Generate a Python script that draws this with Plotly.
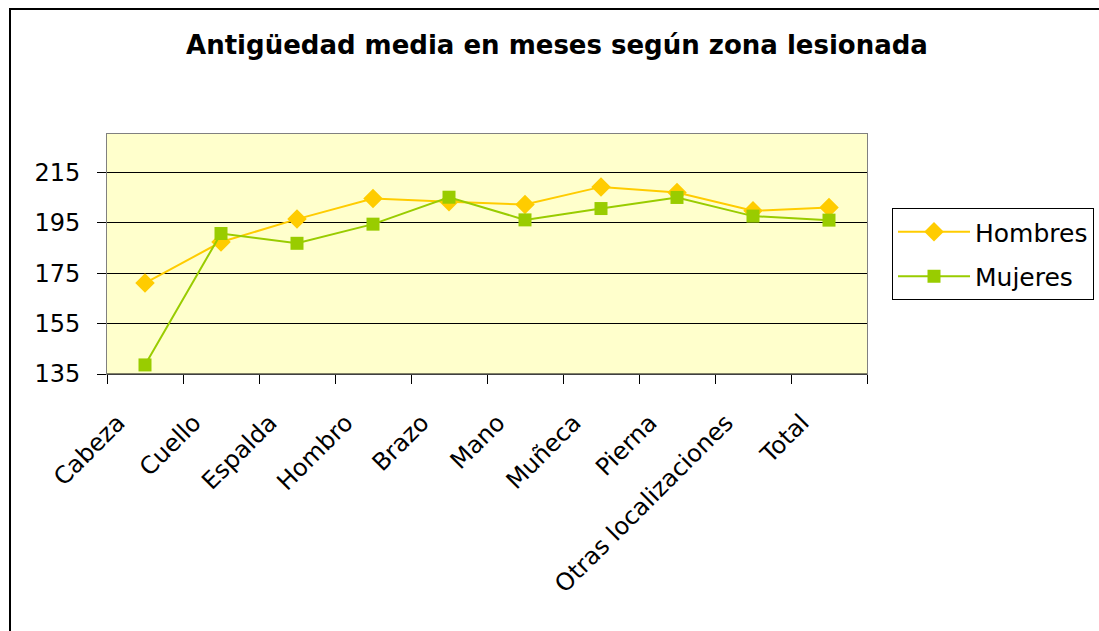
import plotly.graph_objects as go

# Zona lesionada
categorias = ["Cabeza", "Cuello", "Espalda", "Hombro", "Brazo", "Mano",
              "Muñeca", "Pierna", "Otras localizaciones", "Total"]

# Antigüedad media (meses)
hombres = [171.1, 187.4, 196.5, 204.7, 203.4, 202.3, 209.3, 207.1, 199.8, 201.1]
mujeres = [138.6, 190.8, 186.9, 194.5, 205.2, 196.2, 200.7, 205.1, 197.7, 196.1]

y_ticks = [135, 155, 175, 195, 215]

W, H = 1099, 631
L, R, T, B = 107, 867, 134, 374
pw, ph = R - L, B - T

FONT = "DejaVu Sans, Arial, sans-serif"

fig = go.Figure()
fig.add_trace(go.Scatter(
    x=categorias, y=hombres, name="Hombres", mode="lines+markers",
    line=dict(color="#FFCC00", width=2),
    marker=dict(symbol="diamond", size=15, color="#FFCC00"),
    legendgroup="h",
))
fig.add_trace(go.Scatter(
    x=categorias, y=mujeres, name="Mujeres", mode="lines+markers",
    line=dict(color="#99CC00", width=2),
    marker=dict(symbol="square", size=13, color="#99CC00"),
    legendgroup="m",
))

def px_x(x):
    return (x - L) / pw

def px_y(y):
    return (B - y) / ph

fig.update_layout(
    width=W, height=H,
    margin=dict(l=L, r=W - R, t=T, b=H - B, autoexpand=False),
    paper_bgcolor="white",
    plot_bgcolor="#FFFFCC",
    font=dict(family=FONT, size=24, color="black"),
    title=dict(
        text="<b>Antigüedad media en meses según zona lesionada</b>",
        xref="container", yref="container",
        x=557 / W, y=1 - 45 / H, xanchor="center", yanchor="middle",
        font=dict(size=26, color="black"),
    ),
    showlegend=True,
    legend=dict(
        x=px_x(892), y=px_y(208), xanchor="left", yanchor="top",
        bordercolor="black", borderwidth=1, bgcolor="white",
        font=dict(size=25), tracegroupgap=9, itemwidth=72,
    ),
    xaxis=dict(
        type="category", tickangle=-45, tickson="boundaries",
        ticks="outside", ticklen=9, tickcolor="black",
        ticklabelshift=-27, ticklabelstandoff=24,
        showgrid=False, showline=True, linecolor="#808080", linewidth=1,
        mirror=True, range=[-0.5, 9.5], automargin=False,
    ),
    yaxis=dict(
        range=[135, 230.3], tickvals=y_ticks,
        ticks="outside", ticklen=9, tickcolor="black",
        showgrid=True, gridcolor="black", gridwidth=1,
        showline=True, linecolor="#808080", linewidth=1, mirror=True,
        zeroline=False, ticklabelstandoff=12, automargin=False,
    ),
    shapes=[
        # chart frame
        dict(type="rect", xref="paper", yref="paper",
             x0=px_x(10), x1=px_x(W + 20), y0=px_y(H + 20), y1=px_y(9),
             line=dict(color="black", width=2), layer="below"),
        # bottom axis line
        dict(type="line", xref="paper", yref="paper",
             x0=0, x1=1, y0=0, y1=0, line=dict(color="black", width=1)),
    ],
)

fig.write_html("out.html")
